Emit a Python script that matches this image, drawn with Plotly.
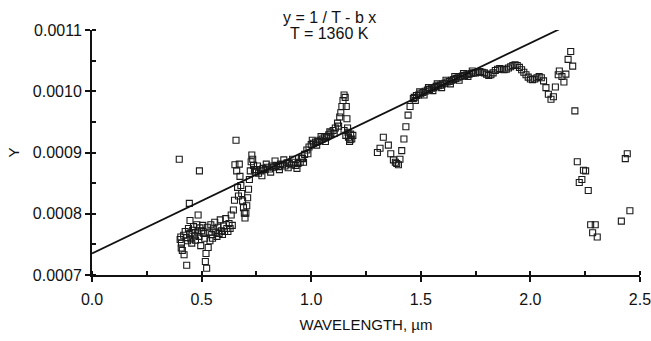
import plotly.graph_objects as go

# ---- data ----
vis_wl = [0.398, 0.490, 0.444, 0.484, 0.447, 0.402, 0.405, 0.408, 0.407, 0.412, 0.420, 0.432,
          0.418, 0.425, 0.430, 0.436, 0.440, 0.446, 0.451, 0.455, 0.459, 0.463, 0.468, 0.472,
          0.478, 0.482, 0.488, 0.492, 0.496, 0.500, 0.505, 0.510, 0.514, 0.517, 0.520, 0.523,
          0.526, 0.530, 0.534, 0.538, 0.542, 0.546, 0.550, 0.555, 0.560, 0.565, 0.570, 0.575,
          0.580, 0.585, 0.590, 0.595, 0.600, 0.605, 0.610, 0.615, 0.620, 0.625, 0.630, 0.635,
          0.640, 0.645, 0.650, 0.652, 0.657, 0.660, 0.664, 0.668, 0.672, 0.675, 0.679, 0.683,
          0.687, 0.691, 0.695, 0.698, 0.702, 0.706, 0.710, 0.714, 0.718, 0.722, 0.726, 0.729,
          0.733, 0.737, 0.741]
vis_y = [0.000889, 0.000870, 0.000817, 0.000798, 0.000789, 0.000758, 0.000762, 0.000752, 0.000744,
         0.000740, 0.000733, 0.000716, 0.000765, 0.000771, 0.000761, 0.000756, 0.000776, 0.000768,
         0.000759, 0.000752, 0.000773, 0.000779, 0.000764, 0.000757, 0.000782, 0.000770, 0.000763,
         0.000777, 0.000748, 0.000772, 0.000781, 0.000768, 0.000760, 0.000722, 0.000735, 0.000711,
         0.000778, 0.000745, 0.000770, 0.000756, 0.000782, 0.000766, 0.000760, 0.000775, 0.000786,
         0.000770, 0.000763, 0.000778, 0.000768, 0.000790, 0.000772, 0.000766, 0.000780, 0.000771,
         0.000792, 0.000776, 0.000771, 0.000784, 0.000776, 0.000798, 0.000781, 0.000806, 0.000822,
         0.000880, 0.000920, 0.000870, 0.000843, 0.000829, 0.000881, 0.000861, 0.000846, 0.000833,
         0.000821, 0.000810, 0.000801, 0.000793, 0.000801, 0.000813, 0.000826, 0.000840, 0.000856,
         0.000870, 0.000885, 0.000896, 0.000889, 0.000879, 0.000872]

nir1_wl = [0.745, 0.750, 0.760, 0.770, 0.780, 0.790, 0.800, 0.810, 0.820, 0.830, 0.840, 0.850,
           0.860, 0.870, 0.880, 0.890, 0.900, 0.910, 0.920, 0.930, 0.940, 0.950, 0.960, 0.970,
           0.980, 0.990, 1.000, 1.010, 1.020, 1.030, 1.040, 1.050, 1.060, 1.070, 1.080, 1.090,
           1.100, 1.110, 1.120, 1.130, 1.135, 1.140, 1.145, 1.150, 1.155, 1.160, 1.163, 1.166,
           1.170, 1.175, 1.180, 1.185, 1.190,
           0.755, 0.775, 0.795, 0.815, 0.835, 0.855, 0.875, 0.895, 0.915, 0.935, 0.955, 0.965,
           0.985, 1.005, 1.025, 1.045, 1.065, 1.085, 1.105, 1.125, 1.150, 1.158, 1.168, 1.178]
nir1_y = [0.000868, 0.000872, 0.000866, 0.000870, 0.000874, 0.000872, 0.000876, 0.000873, 0.000878,
          0.000876, 0.000879, 0.000877, 0.000881, 0.000880, 0.000878, 0.000883, 0.000882, 0.000880,
          0.000884, 0.000879, 0.000882, 0.000884, 0.000890, 0.000897, 0.000904, 0.000909, 0.000913,
          0.000915, 0.000917, 0.000918, 0.000920, 0.000922, 0.000924, 0.000926, 0.000929, 0.000932,
          0.000936, 0.000940, 0.000948, 0.000958, 0.000965, 0.000975, 0.000985, 0.000994, 0.000990,
          0.000975, 0.000955, 0.000940, 0.000925, 0.000918, 0.000930, 0.000922, 0.000928,
          0.000878, 0.000862, 0.000881, 0.000868, 0.000886, 0.000872, 0.000888, 0.000875, 0.000889,
          0.000874, 0.000891, 0.000884, 0.000898, 0.000920, 0.000912, 0.000926, 0.000918, 0.000934,
          0.000931, 0.000943, 0.000936, 0.000928, 0.000933, 0.000921]

nir2_wl = [1.302, 1.314, 1.329, 1.352, 1.363, 1.375, 1.390, 1.405, 1.413, 1.423, 1.432, 1.442,
           1.451, 1.466, 1.384, 1.398]
nir2_y = [0.000900, 0.000907, 0.000925, 0.000912, 0.000898, 0.000888, 0.000882, 0.000889, 0.000903,
          0.000922, 0.000942, 0.000961, 0.000975, 0.000988, 0.000884, 0.000880]

nir3_wl = [1.470, 1.480, 1.490, 1.500, 1.510, 1.520, 1.530, 1.540, 1.550, 1.560, 1.570, 1.580,
           1.590, 1.600, 1.610, 1.620, 1.630, 1.640, 1.650, 1.660, 1.670, 1.680, 1.690, 1.700,
           1.710, 1.720, 1.730, 1.740, 1.750, 1.760, 1.770, 1.780, 1.790, 1.800, 1.810, 1.820,
           1.830, 1.840, 1.850, 1.860, 1.870, 1.880, 1.890, 1.900, 1.910, 1.920, 1.930, 1.940,
           1.950, 1.960, 1.970, 1.980, 1.990, 2.000, 2.010, 2.020, 2.030, 2.040, 2.050, 2.060,
           1.475, 1.495, 1.515, 1.535, 1.555, 1.575, 1.595, 1.615, 1.635, 1.655, 1.675, 1.695,
           1.715, 1.735]
nir3_y = [0.000990, 0.000993, 0.000994, 0.000996, 0.000998, 0.001000, 0.001002, 0.001003, 0.001005,
          0.001006, 0.001008, 0.001009, 0.001010, 0.001012, 0.001013, 0.001015, 0.001016, 0.001018,
          0.001019, 0.001021, 0.001022, 0.001024, 0.001025, 0.001026, 0.001027, 0.001028, 0.001029,
          0.001030, 0.001030, 0.001031, 0.001032, 0.001031, 0.001030, 0.001028, 0.001026, 0.001027,
          0.001030, 0.001034, 0.001036, 0.001037, 0.001036, 0.001035, 0.001036, 0.001038, 0.001040,
          0.001042, 0.001043, 0.001042, 0.001039, 0.001035, 0.001031, 0.001027, 0.001023, 0.001020,
          0.001019, 0.001020, 0.001022, 0.001024, 0.001022, 0.001017,
          0.000985, 0.000999, 0.000994, 0.001006, 0.001001, 0.001012, 0.001006, 0.001018, 0.001012,
          0.001024, 0.001018, 0.001029, 0.001024, 0.001033]

ir_wl = [2.071, 2.082, 2.094, 2.105, 2.114, 2.127, 2.132, 2.144, 2.153, 2.162, 2.172, 2.184,
         2.193, 2.203, 2.214, 2.242, 2.252, 2.235, 2.223, 2.264, 2.275, 2.296, 2.284, 2.305,
         2.433, 2.442, 2.415, 2.454]
ir_y = [0.001006, 0.000995, 0.000987, 0.000991, 0.001007, 0.001027, 0.001033, 0.001024, 0.001015,
        0.001028, 0.001052, 0.001065, 0.001041, 0.000968, 0.000885, 0.000871, 0.000870, 0.000856,
        0.000851, 0.000838, 0.000782, 0.000782, 0.000769, 0.000762, 0.000890, 0.000898, 0.000788,
        0.000805]

x_ticks = [0.0, 0.5, 1.0, 1.5, 2.0, 2.5]
x_tick_labels = ["0.0", "0.5", "1.0", "1.5", "2.0", "2.5"]
y_ticks = [0.0007, 0.0008, 0.0009, 0.0010, 0.0011]
y_tick_labels = ["0.0007", "0.0008", "0.0009", "0.0010", "0.0011"]

T_kelvin = 1360.0
b_coef = -1.717e-4
fit_wl = [0.0, 2.162]
fit_y = [1.0 / T_kelvin - b_coef * w for w in fit_wl]

wl = vis_wl + nir1_wl + nir2_wl + nir3_wl + ir_wl
yv = vis_y + nir1_y + nir2_y + nir3_y + ir_y

FONT = "Liberation Sans, Arial, sans-serif"
INK = "#111111"

fig = go.Figure()
fig.add_trace(go.Scatter(
    x=wl, y=yv, mode="markers",
    marker=dict(symbol="square-open", size=6, color="#1a1a1a", line=dict(width=1.1)),
    showlegend=False, hoverinfo="skip", cliponaxis=False))
fig.add_trace(go.Scatter(
    x=fit_wl, y=fit_y, mode="lines", xaxis="x2", yaxis="y2",
    line=dict(color=INK, width=1.8), showlegend=False, hoverinfo="skip", cliponaxis=False))

x_range = [-0.0001, 2.5001]
y_range = [0.00069998, 0.00110002]
common_x = dict(range=x_range, showgrid=False, zeroline=False, automargin=False)
common_y = dict(range=y_range, showgrid=False, zeroline=False, automargin=False)

fig.update_layout(
    width=651, height=341,
    margin=dict(l=92, r=11, t=30, b=66),
    paper_bgcolor="white", plot_bgcolor="white",
    font=dict(family=FONT, size=16, color=INK),
    xaxis=dict(**common_x, tickmode="array", tickvals=x_ticks, ticktext=x_tick_labels,
               ticklabeloverflow="allow",
               showline=True, linecolor=INK, linewidth=2,
               ticks="outside", ticklen=5, tickwidth=2, tickcolor=INK,
               minor=dict(dtick=0.25, tick0=0, ticks="inside", ticklen=4, tickwidth=1.5,
                          tickcolor=INK),
               ticklabelstandoff=4,
               title=dict(text="WAVELENGTH, µm", font=dict(size=15), standoff=12)),
    yaxis=dict(**common_y, tickmode="array", tickvals=y_ticks, ticktext=y_tick_labels,
               ticklabeloverflow="allow",
               showline=True, linecolor=INK, linewidth=2,
               ticks="outside", ticklen=5, tickwidth=2, tickcolor=INK,
               minor=dict(dtick=0.00005, tick0=0.0007, ticks="inside", ticklen=4, tickwidth=1.5,
                          tickcolor=INK),
               title=dict(text="Y", font=dict(size=15), standoff=10)),
    xaxis2=dict(**common_x, overlaying="x", anchor="y2", side="bottom",
                tickmode="array", tickvals=x_ticks,
                showticklabels=False, showline=False,
                ticks="inside", ticklen=4, tickwidth=2, tickcolor=INK),
    yaxis2=dict(**common_y, overlaying="y", anchor="x2", side="left",
                tickmode="array", tickvals=y_ticks, showticklabels=False, showline=False,
                ticks="inside", ticklen=3, tickwidth=2, tickcolor=INK),
    annotations=[
        dict(text="y = 1 / T - b x", xref="paper", yref="paper", x=0.434, y=1.0,
             yshift=13, showarrow=False, font=dict(size=16), xanchor="center", yanchor="middle"),
        dict(text="T = 1360 K", xref="paper", yref="paper", x=0.434, y=1.0,
             yshift=-3, showarrow=False, font=dict(size=16), xanchor="center", yanchor="middle"),
    ],
)

fig.write_html("out.html")
